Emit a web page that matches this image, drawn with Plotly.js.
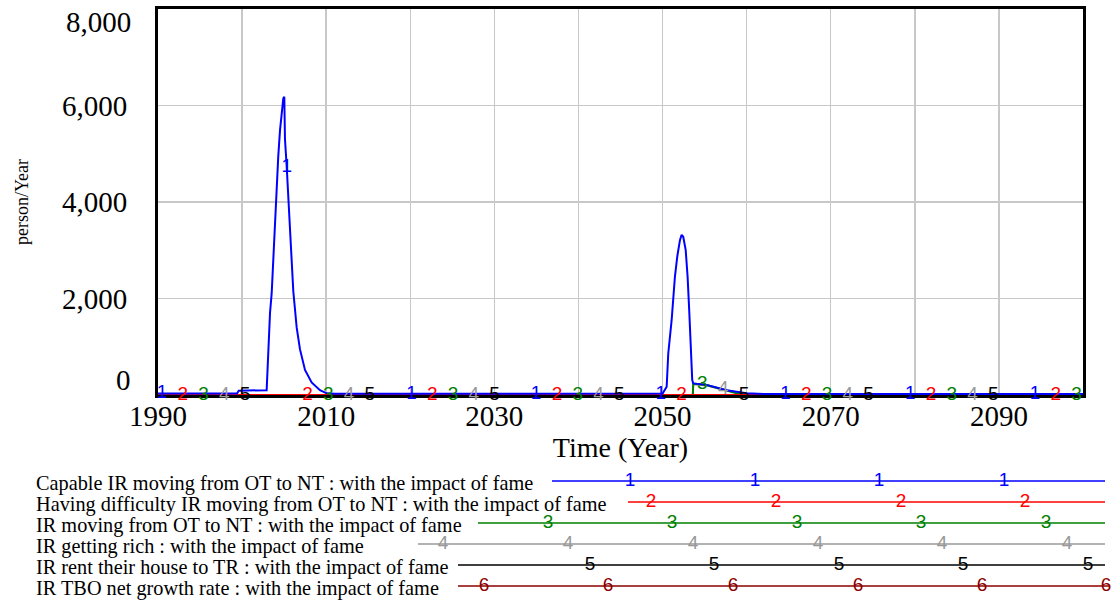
<!DOCTYPE html>
<html>
<head>
<meta charset="utf-8">
<script src="https://cdn.plot.ly/plotly-3.0.1.min.js"></script>
<style>html,body{margin:0;padding:0;background:#fff;}#chart{width:1118px;height:602px;}</style>
</head>
<body>
<div id="chart"></div>
<script>
// ---------------- DATA ----------------
const seriesNames = [
  "Capable IR moving from OT to NT : with the impact of fame",
  "Having difficulty IR moving from OT to NT : with the impact of fame",
  "IR moving from OT to NT : with the impact of fame",
  "IR getting rich : with the impact of fame",
  "IR rent their house to TR : with the impact of fame",
  "IR TBO net growth rate : with the impact of fame"
];
const seriesColors = ["#0000ff", "#ff0000", "#008000", "#999999", "#000000", "#8b0000"];
const seriesNumbers = ["1", "2", "3", "4", "5", "6"];

// Series 1: Capable IR moving from OT to NT
const capableYears = [1990, 1999.4, 1999.6, 2002.8, 2002.92, 2003.32, 2003.52, 2003.71, 2003.91, 2004.03, 2004.3, 2004.51, 2004.71, 2004.9, 2005.02,
  2005.1, 2005.3, 2005.5, 2005.7, 2005.9, 2006.09, 2006.49, 2006.88, 2007.48, 2008.27, 2009.26, 2010.06, 2011, 2030, 2049.9,
  2050.01, 2050.49, 2050.68, 2051.08, 2051.27, 2051.47, 2051.75, 2052.07, 2052.27, 2052.46, 2052.75, 2052.98, 2053.17, 2053.34, 2053.53, 2053.65,
  2055.24, 2057.62, 2060.0, 2062, 2080, 2100];
const capableValues = [30, 30, 90, 90, 100, 1700, 2110, 2800, 3570, 4110, 4940, 5490, 5910, 6150, 6180,
  5300, 4750, 4150, 3450, 2750, 2150, 1400, 950, 520, 260, 100, 35, 25, 25, 25,
  30, 170, 860, 1550, 2040, 2450, 2870, 3210, 3320, 3280, 3010, 2450, 1760, 1000, 310, 240,
  210, 100, 35, 20, 20, 20];

// Series 2: Having difficulty IR moving from OT to NT
const difficultyYears = [1990, 2100];
const difficultyValues = [0, 0];

// Series 3: IR moving from OT to NT
const movingYears = [1990, 2053.6, 2053.65, 2055.24, 2057.62, 2059, 2060, 2100];
const movingValues = [0, 0, 235, 205, 95, 25, 0, 0];

// Series 4: IR getting rich
const richYears = [1990, 2053.6, 2053.65, 2055.24, 2057.2, 2059.6, 2060.5, 2100];
const richValues = [0, 0, 225, 195, 110, 30, 0, 0];

// Series 5: IR rent their house to TR
const rentYears = [1990, 2100];
const rentValues = [0, 0];

// Axis ticks
const xTickVals = [1990, 2000, 2010, 2020, 2030, 2040, 2050, 2060, 2070, 2080, 2090, 2100];
const xTickText = ["1990", "", "2010", "", "2030", "", "2050", "", "2070", "", "2090", ""];
const yTickVals = [0, 2000, 4000, 6000, 8000];
const yTickText = ["0", "2,000", "4,000", "6,000", "8,000"];

// ---------------- STYLE / LAYOUT CONSTANTS ----------------
const W = 1118, H = 602;
const plotL = 158, plotR = 1083, plotT = 9, plotB = 395;
const serif = "Liberation Serif, Times New Roman, serif";
const sans = "Liberation Sans, Arial, sans-serif";
const tickFont = {family: serif, size: 29, color: "#000"};
const numFont = 19;

// marker placement along plot lines (Vensim-style series numbers)
const markStart = 1990.48, markStep = 14.83, markOffset = 2.47;

// legend layout (pixel-based second axes)
const legendLineStart = [552, 628, 478, 418, 458, 458];
const legendLineEnd = [1105, 1105, 1105, 1105, 1105, 1110];
const legendMarks = [
  [630, 755, 879, 1004],
  [651, 776, 901, 1025],
  [548, 672, 797, 921, 1046],
  [443, 568, 693, 818, 942, 1067],
  [590, 714, 839, 963, 1088],
  [484, 608, 733, 858, 982, 1106]
];
const legendRow0 = 481, legendRowGap = 21;

// ---------------- BUILD ----------------
const plotSeries = [
  {x: capableYears, y: capableValues},
  {x: difficultyYears, y: difficultyValues},
  {x: movingYears, y: movingValues},
  {x: richYears, y: richValues},
  {x: rentYears, y: rentValues}
];

function valueAt(s, t) {
  const xs = s.x, ys = s.y;
  if (t <= xs[0]) return ys[0];
  for (let i = 1; i < xs.length; i++) {
    if (t <= xs[i]) {
      const f = (t - xs[i - 1]) / (xs[i] - xs[i - 1]);
      return ys[i - 1] + f * (ys[i] - ys[i - 1]);
    }
  }
  return ys[ys.length - 1];
}

const traces = [];
// draw later series first so series 1 is on top
for (let k = plotSeries.length - 1; k >= 0; k--) {
  traces.push({
    x: plotSeries[k].x, y: plotSeries[k].y, xaxis: "x", yaxis: "y",
    type: "scatter", mode: "lines", showlegend: false, hoverinfo: "skip",
    line: {color: seriesColors[k], width: 2}
  });
}
for (let k = plotSeries.length - 1; k >= 0; k--) {
  const mx = [], my = [];
  for (let t = markStart + k * markOffset; t <= 2100; t += markStep) {
    mx.push(t); my.push(valueAt(plotSeries[k], t));
  }
  traces.push({
    x: mx, y: my, xaxis: "x", yaxis: "y", type: "scatter", mode: "text",
    text: mx.map(() => seriesNumbers[k]), textposition: "middle center",
    textfont: {family: sans, size: numFont, color: seriesColors[k]},
    cliponaxis: false, showlegend: false, hoverinfo: "skip"
  });
}

// legend
const annotations = [];
for (let r = 0; r < seriesNames.length; r++) {
  traces.push({
    x: [legendLineStart[r], legendLineEnd[r]], y: [r, r], xaxis: "x2", yaxis: "y2",
    type: "scatter", mode: "lines", line: {color: seriesColors[r], width: 1.5},
    showlegend: false, hoverinfo: "skip"
  });
  traces.push({
    x: legendMarks[r], y: legendMarks[r].map(() => r), xaxis: "x2", yaxis: "y2",
    type: "scatter", mode: "text", text: legendMarks[r].map(() => seriesNumbers[r]),
    textposition: "middle center", textfont: {family: sans, size: numFont, color: seriesColors[r]},
    cliponaxis: false, showlegend: false, hoverinfo: "skip"
  });
  annotations.push({
    xref: "x2", yref: "y2", x: 34, y: r, xanchor: "left", yanchor: "middle", yshift: -2,
    text: seriesNames[r], showarrow: false, font: {family: serif, size: 20.3, color: "#000"}
  });
}
// end y tick labels (drawn inside like the original)
annotations.push({xref: "paper", yref: "y", x: 133 / W, y: 8000, xanchor: "right", yanchor: "middle", yshift: -13,
  text: yTickText[4], showarrow: false, font: tickFont});
annotations.push({xref: "paper", yref: "y", x: 133 / W, y: 0, xanchor: "right", yanchor: "middle", yshift: 15,
  text: yTickText[0], showarrow: false, font: tickFont});

const legendTop = 470;
const layout = {
  width: W, height: H,
  margin: {l: 0, r: 0, t: 0, b: 0, pad: 0},
  paper_bgcolor: "#ffffff", plot_bgcolor: "#ffffff",
  showlegend: false,
  xaxis: {
    domain: [plotL / W, plotR / W], range: [1990, 2100],
    tickvals: xTickVals, ticktext: xTickText, ticks: "", ticklabelstandoff: -7,
    tickfont: tickFont, showgrid: true, gridcolor: "#c8c8c8", gridwidth: 1.5,
    zeroline: false, showline: true, linecolor: "#000", linewidth: 3, mirror: true,
    layer: "below traces", anchor: "y",
    title: {text: "Time (Year)", font: {family: serif, size: 28, color: "#000"}, standoff: 4}
  },
  yaxis: {
    domain: [1 - plotB / H, 1 - plotT / H], range: [0, 8000],
    tickvals: yTickVals, ticktext: ["", yTickText[1], yTickText[2], yTickText[3], ""], ticks: "",
    ticklabelstandoff: 22, tickfont: tickFont, showgrid: true, gridcolor: "#c8c8c8", gridwidth: 1.5,
    zeroline: false, showline: true, linecolor: "#000", linewidth: 3, mirror: true,
    layer: "below traces", anchor: "x",
    title: {text: "person/Year", font: {family: serif, size: 18, color: "#000"}, standoff: 29}
  },
  xaxis2: {domain: [0, 1], range: [0, W], visible: false, anchor: "y2", fixedrange: true},
  yaxis2: {domain: [0, (H - legendTop) / H],
    range: [(H - legendRow0) / legendRowGap, -(legendRow0 - legendTop) / legendRowGap],
    visible: false, anchor: "x2", fixedrange: true},
  annotations: annotations
};

Plotly.newPlot("chart", traces, layout, {displayModeBar: false, staticPlot: true});
</script>
</body>
</html>
